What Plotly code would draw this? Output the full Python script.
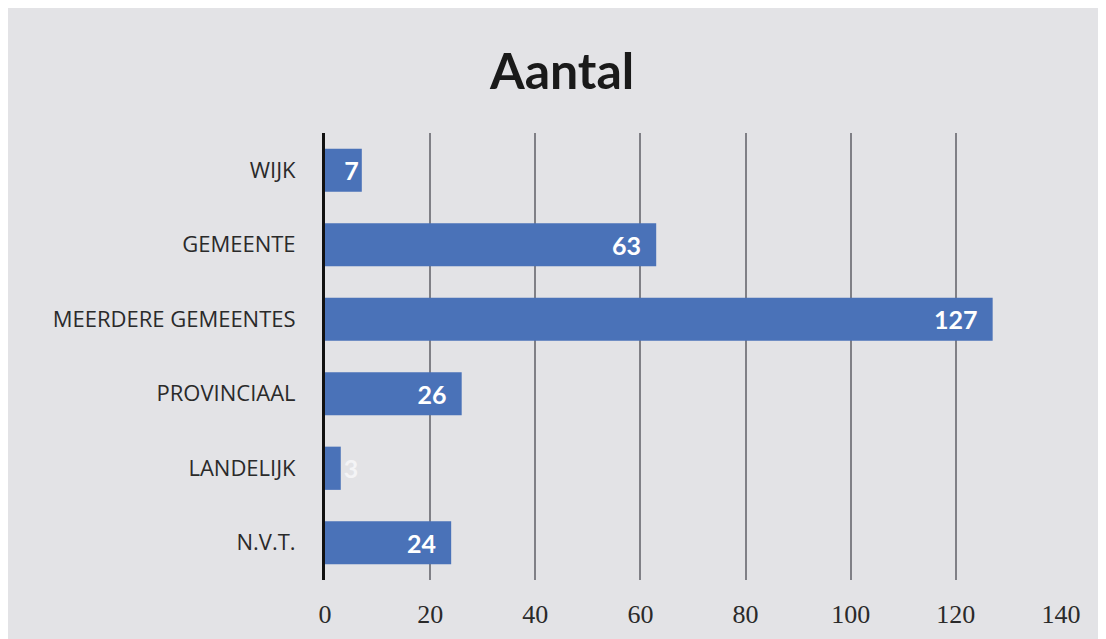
import plotly.graph_objects as go

categories = ["WIJK", "GEMEENTE", "MEERDERE GEMEENTES", "PROVINCIAAL", "LANDELIJK", "N.V.T."]
values = [7, 63, 127, 26, 3, 24]
tick_vals = [0, 20, 40, 60, 80, 100, 120, 140]

text_pos = ["outside" if v < 5 else "inside" for v in values]
labels = [f"{v}\u00a0\u00a0" if v >= 20 else str(v) for v in values]

fig = go.Figure(go.Bar(
    y=categories, x=values, orientation="h",
    marker=dict(color="#4a72b8", line=dict(width=0)),
    width=0.58,
    text=labels,
    textposition=text_pos,
    insidetextanchor="end",
    textfont=dict(family="Lato, Open Sans, sans-serif", size=25, color="white", weight="bold"),
    outsidetextfont=dict(family="Lato, Open Sans, sans-serif", size=25, color="#f4f4f6", weight="bold"),
    cliponaxis=False,
    constraintext="none",
))

fig.update_layout(
    width=1106, height=639,
    margin=dict(l=317, r=53, t=125, b=67),
    paper_bgcolor="#e3e3e6",
    plot_bgcolor="rgba(0,0,0,0)",
    title=dict(text="<b>Aantal</b>", x=0.501, xanchor="center", y=0.9, yanchor="middle",
               font=dict(family="Lato, Open Sans, sans-serif", size=50, color="#1a1a1a")),
    showlegend=False,
    xaxis=dict(range=[0, 140], tickvals=tick_vals, showgrid=True, gridcolor="#808086", gridwidth=1.5,
               zeroline=False, showline=False,
               tickfont=dict(family="Liberation Serif, DejaVu Serif, serif", size=26, color="#2a2a2a"),
               ticks="", ticklabelstandoff=16),
    yaxis=dict(autorange="reversed", showline=True, linecolor="#111111", linewidth=3,
               showgrid=False, ticks="", ticklabelstandoff=22,
               tickfont=dict(family="Open Sans, Lato, sans-serif", size=22, color="#2a2a2a", weight=500)),
)

fig.write_html("out.html")
